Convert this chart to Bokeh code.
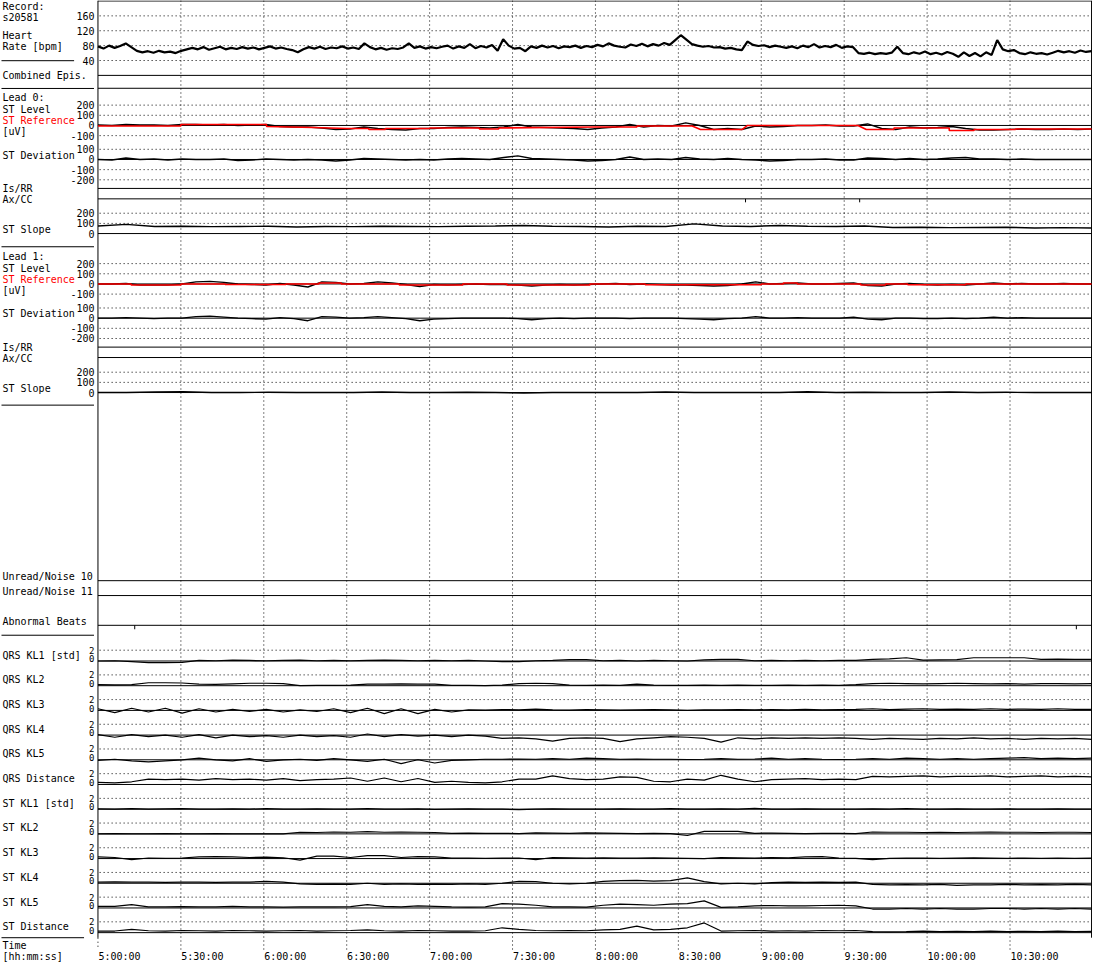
import numpy as np
from bokeh.plotting import figure
from bokeh.models import Range1d
from bokeh.core.properties import value
from bokeh.embed import file_html
from bokeh.resources import INLINE

# ------------------------------------------------------------------ data
RECORD = "s20581"
TICK_MIN = [0, 30, 60, 90, 120, 150, 180, 210, 240, 270, 300, 330]
TICK_LABELS = ["5:00:00", "5:30:00", "6:00:00", "6:30:00", "7:00:00", "7:30:00",
               "8:00:00", "8:30:00", "9:00:00", "9:30:00", "10:00:00", "10:30:00"]
END_MIN = 359.5   # minutes after 5:00:00 covered by the record window

# heart rate, evenly sampled over the window
hr_bpm = [78, 72, 80, 74, 79, 86, 76, 66, 62, 65, 61, 66, 62, 64, 60, 66, 70, 74, 70, 76,
          69, 73, 77, 70, 74, 71, 76, 72, 75, 70, 74, 78, 72, 75, 71, 68, 62, 70, 76, 72,
          77, 71, 75, 73, 78, 72, 75, 71, 86, 76, 70, 74, 69, 73, 71, 75, 86, 74, 78, 72,
          76, 73, 77, 80, 72, 78, 74, 84, 73, 79, 75, 82, 66, 97, 80, 72, 74, 65, 78, 74,
          80, 75, 79, 73, 78, 76, 80, 74, 79, 76, 82, 78, 86, 80, 77, 75, 83, 79, 85, 78,
          84, 80, 87, 82, 95, 108, 96, 84, 80, 77, 79, 75, 76, 72, 74, 70, 68, 91, 82, 79,
          81, 76, 80, 77, 74, 78, 73, 80, 76, 84, 75, 79, 76, 82, 74, 78, 76, 60, 58, 61,
          57, 60, 58, 61, 77, 60, 57, 62, 58, 64, 57, 61, 56, 63, 58, 50, 62, 52, 60, 51,
          62, 55, 95, 70, 65, 68, 60, 57, 62, 58, 60, 56, 61, 66, 62, 65, 61, 67, 63, 65]

# ST level / deviation [uV], evenly sampled over the window
st0_level = [5, 0, 10, 5, 5, 0, 10, 10, 5, 10, 0, 5, 10, -10, -15, -15, -25, -40, -35, -15,
             -30, -40, -45, -30, -30, -20, -15, -20, -25, -15, 10, -15, -20, -25, -30, -40,
             -25, -15, 10, -15, 0, -5, 25, 0, -40, -30, -40, -5, -15, -10, 0, 0, 5, -5, -5,
             15, -30, -40, -15, -25, -20, -10, -30, -45, -45, -40, -35, -40, -40, -35, -40, -35]
st0_dev = [0, -5, 15, 0, 5, -5, 5, 0, 0, 5, -10, -5, 5, 0, -5, 0, -5, -15, -5, 10,
           5, 0, -5, 0, -5, 5, 10, 5, 0, 20, 35, 10, 5, 0, -5, -15, -10, 0, 25, 0,
           5, 0, 20, 5, 0, 10, 0, -5, -15, -10, 0, 0, 5, -5, -5, 15, 10, 0, 10, 0,
           5, 15, 20, 5, 5, 0, 5, 0, 0, 0, 0, 0]
st1_level = [0, 0, 5, -10, -10, -10, 0, 20, 25, 15, 0, -5, -10, 5, -10, -30, 20, 15, 0, 5,
             20, 10, -5, -25, -5, -10, -5, 0, -5, -5, -10, -20, -10, -5, -10, -5, 0, 5, -5, 0,
             -5, -10, -10, -15, -20, -15, 0, 20, 0, 5, 10, 0, 0, 5, 10, -15, -20, 0, 5, -5,
             -10, -5, -10, 0, 10, 0, 5, 0, 0, 5, 0, 0]
st1_dev = [0, 0, 5, 0, -5, 0, 0, 15, 20, 10, 0, -5, -10, 5, -5, -25, 15, 10, 0, 5,
           15, 5, -5, -25, -10, -5, 0, 0, 0, 0, -5, -15, -5, 0, -5, 0, 0, 0, -5, 0,
           0, 0, -5, -10, -15, -5, 0, 15, 0, 0, 5, 0, 0, 0, 10, -10, -15, 0, 0, -5,
           -5, 0, -5, 0, 10, 0, 5, 0, 0, 0, 0, 0]

# ST reference (red), as (minute, uV) vertices
ref0_min = [0, 30, 30, 61, 61, 78, 90, 98, 98, 104, 104, 120, 120, 138, 138, 145, 145, 180,
            195, 195, 215, 218, 233, 235, 275, 278, 288, 288, 308, 308, 317, 317, 332, 332, 359.5]
ref0_uv = [-5, -5, 10, 10, -10, -20, -30, -30, -40, -40, -30, -30, -25, -25, -35, -35, -25, -15,
           -15, -5, -5, -40, -40, 0, 0, -40, -40, -25, -25, -50, -50, -40, -40, -35, -35]
ref1_min = [0, 12, 12, 30, 30, 46, 46, 68, 68, 80, 80, 88, 88, 109, 109, 132, 132, 148, 148,
            178, 178, 198, 198, 240, 240, 248, 248, 253, 253, 276, 276, 285, 285, 293, 293,
            314, 314, 359.5]
ref1_uv = [0, 0, -10, -10, 0, 0, -5, -5, 0, 0, 10, 10, 0, 0, -10, -10, 0, 0, -10,
           -10, 0, 0, -8, -8, 0, 0, 10, 10, 0, 0, -10, -10, 0, 0, -8,
           -8, 0, 0]

# ST slope, evenly sampled over the window
slope0 = [75, 90, 70, 72, 68, 70, 72, 65, 70, 68, 72, 70, 68, 72, 75, 80, 72, 70, 65, 72,
          70, 95, 75, 70, 80, 72, 70, 75, 60, 62, 58, 60, 62, 55, 58, 55]
slope1 = [0, 0, 5, 8, 0, 0, 3, 0, 0, 0, 5, 0, 0, 3, 0, -5, 0, 0, 0, 0,
          5, 0, 0, 0, 0, 8, 0, 3, 0, 0, 5, 0, 3, 0, 0, 0]

axcc0_events = [234.3, 275.6]
abnormal_beats = [13.3, 354.0]

kl_names = ["QRS KL1 [std]", "QRS KL2", "QRS KL3", "QRS KL4", "QRS KL5", "QRS Distance",
            "ST KL1 [std]", "ST KL2", "ST KL3", "ST KL4", "ST KL5", "ST Distance"]
qrs_kl1 = [0, 0.05, -0.1, -0.3, -0.3, -0.25, 0.1, 0.05, 0.15, 0.1,
           0.05, 0.1, 0.15, 0.05, 0.1, 0.05, 0.1, 0.15, 0.1, 0.05,
           0.1, 0.05, 0.1, 0.0, -0.1, -0.1, 0.05, 0.1, 0.25, 0.25,
           0.05, 0.1, 0.0, 0.1, 0.05, 0.0, 0.2, 0.3, 0.3, 0.05,
           0.1, 0.05, 0.1, 0.05, 0.1, 0.1, 0.3, 0.4, 0.6, 0.15,
           0.2, 0.25, 0.6, 0.6, 0.6, 0.6, 0.3, 0.35, 0.3, 0.3]
qrs_kl2 = [0.2, 0.15, 0.2, 0.55, 0.55, 0.5, 0.3, 0.25, 0.35, 0.45,
           0.45, 0.4, 0.0, 0.05, 0.05, 0.1, 0.3, 0.3, 0.35, 0.3,
           0.3, 0.05, 0.05, 0.0, 0.1, 0.4, 0.45, 0.4, 0.1, 0.05,
           0.1, 0.05, 0.3, 0.1, 0.05, 0.05, 0.1, 0.05, 0.1, 0.05,
           0.05, 0.1, 0.05, 0.1, 0.05, 0.2, 0.4, 0.45, 0.4, 0.35,
           0.4, 0.45, 0.4, 0.35, 0.4, 0.3, 0.4, 0.4, 0.35, 0.4]
qrs_kl3 = [0.3, -0.4, 0.4, -0.3, 0.4, -0.5, 0.3, -0.3, 0.2, -0.2,
           0.2, -0.3, 0.1, -0.2, 0.3, -0.4, 0.4, -0.6, 0.3, -0.6,
           0.2, -0.3, 0.1, 0.05, 0.15, 0.1, 0.25, 0.1, 0.05, 0.15,
           0.1, 0.05, 0.1, 0.15, 0.1, 0.0, 0.1, 0.1, 0.15, 0.1,
           0.15, 0.1, 0.2, 0.1, 0.15, 0.2, 0.3, 0.15, 0.25, 0.3,
           0.2, 0.25, 0.2, 0.3, 0.2, 0.25, 0.2, 0.3, 0.2, 0.2]
qrs_kl4 = [0.1, -0.4, 0.1, -0.3, 0.0, -0.4, 0.1, -0.5, 0.0, -0.3,
           -0.1, -0.4, 0.0, -0.3, -0.1, -0.4, 0.2, -0.3, 0.1, -0.2,
           0.0, -0.3, 0.0, -0.2, -0.6, -0.5, -0.7, -1.1, -0.6, -0.5,
           -0.6, -1.2, -0.7, -0.5, -0.3, -0.4, -0.6, -1.3, -0.5, -0.7,
           -0.5, -0.6, -0.5, -0.6, -0.5, -0.6, -0.8, -0.6, -0.7, -0.8,
           -0.6, -0.7, -0.5, -0.7, -0.6, -0.8, -0.6, -0.7, -0.6, -0.8]
qrs_kl5 = [-0.1, 0.1, -0.2, -0.4, -0.2, 0.0, 0.3, 0.0, -0.2, 0.2,
           -0.3, 0.0, 0.1, -0.1, 0.2, 0.0, -0.3, 0.1, -0.7, 0.0,
           -0.6, -0.1, 0.0, 0.1, 0.1, 0.15, 0.1, 0.2, 0.1, 0.3,
           0.2, 0.1, 0.15, 0.1, 0.1, 0.05, 0.1, 0.2, 0.1, 0.15,
           0.3, 0.1, 0.2, 0.1, 0.05, 0.1, 0.2, 0.1, 0.3, 0.2,
           0.1, 0.2, 0.1, 0.2, 0.3, 0.4, 0.2, 0.3, 0.2, 0.3]
qrs_dist = [0.4, 0.3, 0.5, 1.0, 0.9, 1.0, 0.8, 1.1, 0.9, 1.0,
            0.8, 1.1, 0.7, 0.9, 1.0, 1.2, 0.6, 1.2, 0.5, 1.1,
            0.4, 0.6, 0.4, 0.3, 0.5, 1.0, 1.0, 1.6, 1.1, 0.9,
            1.0, 1.4, 1.3, 0.6, 0.5, 1.0, 0.8, 1.7, 1.0, 0.5,
            0.9, 1.0, 1.1, 0.9, 1.0, 0.9, 1.5, 1.4, 1.5, 1.6,
            1.4, 1.5, 1.5, 1.6, 1.4, 1.5, 1.6, 1.4, 1.5, 1.4]
st_kl1 = [0.05, 0.0, 0.1, 0.0, 0.05, 0.1, 0.0, 0.0, 0.05, 0.0,
          0.1, 0.0, 0.0, 0.05, 0.0, 0.0, 0.1, 0.0, 0.0, 0.05,
          -0.05, 0.0, 0.05, 0.0, 0.0, -0.1, 0.0, 0.05, 0.0, 0.0,
          0.0, 0.05, 0.0, 0.0, 0.1, 0.0, 0.0, 0.05, 0.0, 0.15,
          0.0, 0.0, 0.05, 0.0, 0.0, 0.0, 0.05, 0.0, 0.1, 0.0,
          0.0, 0.05, 0.0, 0.0, 0.05, 0.0, 0.0, 0.05, 0.0, 0.0]
st_kl2 = [0.0, 0.05, 0.0, 0.0, 0.05, 0.0, 0.0, 0.05, 0.0, 0.0,
          0.0, 0.0, 0.3, 0.25, 0.35, 0.3, 0.4, 0.3, 0.35, 0.3,
          0.25, 0.1, 0.15, 0.1, 0.1, 0.05, 0.2, 0.15, 0.1, 0.2,
          0.15, 0.1, 0.05, 0.1, 0.05, -0.3, 0.45, 0.45, 0.45, 0.1,
          0.15, 0.1, 0.05, 0.1, 0.1, 0.05, 0.35, 0.3, 0.3, 0.25,
          0.3, 0.25, 0.3, 0.35, 0.3, 0.3, 0.25, 0.3, 0.3, 0.25]
st_kl3 = [0.3, 0.2, -0.2, 0.1, 0.05, 0.1, 0.3, 0.35, 0.3, 0.2,
          0.25, 0.15, -0.3, 0.45, 0.45, 0.2, 0.55, 0.55, 0.2, 0.35,
          0.3, 0.1, 0.1, 0.05, 0.1, 0.1, -0.2, 0.2, 0.15, 0.1,
          0.15, 0.1, 0.1, 0.15, 0.1, 0.05, 0.0, 0.2, 0.15, 0.1,
          0.2, 0.15, 0.3, 0.35, 0.1, 0.05, -0.2, 0.05, 0.1, 0.1,
          0.05, 0.1, 0.15, 0.1, 0.05, 0.1, 0.05, 0.1, 0.05, 0.1]
st_kl4 = [0.2, 0.25, 0.2, 0.2, 0.15, 0.2, 0.2, 0.15, 0.2, 0.2,
          0.35, 0.2, -0.1, -0.2, -0.15, -0.2, 0.0, -0.2, -0.1, -0.2,
          -0.15, -0.2, -0.1, -0.2, 0.0, 0.35, 0.3, 0.0, -0.1, 0.0,
          0.35, 0.5, 0.55, 0.4, 0.5, 1.0, 0.3, -0.1, 0.0, -0.1,
          0.1, 0.2, 0.15, 0.2, 0.15, 0.2, -0.2, -0.3, -0.25, -0.3,
          -0.2, -0.4, -0.3, -0.3, -0.2, -0.3, -0.25, -0.3, -0.2, -0.3]
st_kl5 = [0.3, 0.3, 0.6, 0.2, 0.2, 0.25, 0.2, 0.2, 0.3, 0.2,
          0.2, 0.15, 0.2, 0.2, 0.2, 0.25, 0.6, 0.3, 0.2, 0.4,
          0.3, 0.2, 0.15, 0.2, 0.8, 0.7, 0.5, 0.2, 0.2, 0.15,
          0.5, 0.7, 0.6, 0.5, 0.7, 0.8, 1.3, 0.1, 0.2, 0.4,
          0.45, 0.4, 0.4, 0.45, 0.5, 0.4, -0.2, -0.2, -0.1, -0.2,
          -0.1, -0.2, -0.2, -0.1, -0.1, -0.2, -0.1, -0.2, -0.1, -0.2]
st_dist = [0.3, 0.3, 0.6, 0.35, 0.3, 0.4, 0.35, 0.3, 0.4, 0.35,
           0.3, 0.35, 0.4, 0.3, 0.35, 0.4, 0.5, 0.35, 0.3, 0.4,
           0.35, 0.3, 0.3, 0.35, 0.9, 0.6, 0.4, 0.35, 0.4, 0.35,
           0.5, 0.6, 1.2, 0.5, 0.6, 0.9, 1.8, 0.3, 0.35, 0.4,
           0.3, 0.35, 0.3, 0.4, 0.35, 0.4, 0.2, 0.15, 0.2, 0.3,
           0.2, 0.25, 0.2, 0.3, 0.2, 0.25, 0.2, 0.3, 0.2, 0.25]
kl_series = [qrs_kl1, qrs_kl2, qrs_kl3, qrs_kl4, qrs_kl5, qrs_dist,
             st_kl1, st_kl2, st_kl3, st_kl4, st_kl5, st_dist]

# ------------------------------------------------------------------ layout (reference pixel rows)
W, H = 1092, 962
REF_H = 970.0
X_ORIGIN = 100.0      # pixel column of 5:00:00
PX_PER_MIN = 2.779


def xm(px):
    return (px - X_ORIGIN) / PX_PER_MIN


def times(n):
    return np.linspace(0.0, END_MIN, n)


FONT = value("DejaVu Sans Mono")
FS = "10px"
BLACK = "#000000"
RED = "#ff0000"

p = figure(width=W, height=H, x_range=Range1d(xm(2.0), xm(1100.0)),
           y_range=Range1d(REF_H, 0), x_axis_location=None, y_axis_location=None,
           output_backend="svg", toolbar_location=None, min_border=0,
           outline_line_color=None, background_fill_color="white",
           border_fill_color="white")
p.grid.visible = False

KL_ZERO0, KL_GAP, KL_SCALE = 666.0, 24.9, 5.45
panels = {
    "hr": (75.5, 0.375),
    "l0lev": (126.0, 0.1025), "l0dev": (160.3, 0.1025), "l0slope": (235.0, 0.1025),
    "l1lev": (285.8, 0.1025), "l1dev": (320.3, 0.1025), "l1slope": (395.3, 0.1025),
}
for k in range(len(kl_names)):
    panels["kl%d" % k] = (KL_ZERO0 + KL_GAP * k, KL_SCALE)
p.extra_y_ranges = {n: Range1d(start=(z - REF_H) / s, end=z / s) for n, (z, s) in panels.items()}

# dotted vertical time grid
p.segment(x0=TICK_MIN[1:], y0=[0] * 11, x1=TICK_MIN[1:], y1=[957] * 11,
          line_color=BLACK, line_width=1, line_dash="1 3")
p.segment(x0=[0], y0=[945], x1=[0], y1=[957], line_color=BLACK, line_width=1, line_dash="1 3")

# dotted horizontal grids + tick labels per panel
grid_specs = [
    ("hr", [160, 120, 80, 40], ["160", "120", "80", "40"]),
    ("l0lev", [200, 100, -100], ["200", "100", "0", "-100"]),
    ("l0dev", [100, -100, -200], ["100", "0", "-100", "-200"]),
    ("l0slope", [200, 100], ["200", "100", "0"]),
    ("l1lev", [200, 100, -100], ["200", "100", "0", "-100"]),
    ("l1dev", [100, -100, -200], ["100", "0", "-100", "-200"]),
    ("l1slope", [200, 100], ["200", "100", "0"]),
]
for name, dots, labs in grid_specs:
    p.segment(x0=[0.6] * len(dots), x1=[END_MIN] * len(dots), y0=dots, y1=dots,
              y_range_name=name, line_color=BLACK, line_width=1, line_dash="1 3")
    tick_vals = [int(t) for t in labs]
    p.text(x=[xm(96.5)] * len(labs), y=tick_vals, text=labs, y_range_name=name,
           text_font=FONT, text_font_size=FS, text_align="right",
           text_baseline="middle", text_color=BLACK)
    if name != "hr":
        p.segment(x0=[0], x1=[END_MIN], y0=[0], y1=[0], y_range_name=name,
                  line_color=BLACK, line_width=1)

for k in range(len(kl_names)):
    name = "kl%d" % k
    p.segment(x0=[0.6], x1=[END_MIN], y0=[2], y1=[2], y_range_name=name,
              line_color=BLACK, line_width=1, line_dash="1 3")
    p.segment(x0=[0], x1=[END_MIN], y0=[0], y1=[0], y_range_name=name,
              line_color=BLACK, line_width=1)
    p.text(x=[xm(96.5)] * 2, y=[2, 0.42], text=["2", "0"], y_range_name=name,
           text_font=FONT, text_font_size="9px", text_align="right",
           text_baseline="middle", text_color=BLACK)

# solid frame and panel separators (reference pixel rows)
solid_rows = [0.5, 75.5, 88.5, 189.5, 200.0, 349.5, 360.0, 585.0, 600.0, 630.0]
p.segment(x0=[0] * len(solid_rows), x1=[END_MIN] * len(solid_rows), y0=solid_rows,
          y1=solid_rows, line_color=BLACK, line_width=1)
p.segment(x0=[0, END_MIN], x1=[0, END_MIN], y0=[0, 0], y1=[945, 945],
          line_color=BLACK, line_width=1)

# left-side separators
sep_rows = [60.7, 88.7, 248.3, 408.0, 640.0, 945.0]
sep_right = [76, 96, 96, 96, 96, 86]
p.segment(x0=[xm(3)] * len(sep_rows), x1=[xm(r) for r in sep_right], y0=sep_rows,
          y1=sep_rows, line_color=BLACK, line_width=1)

# ------------------------------------------------------------------ traces
p.line(times(len(hr_bpm)), hr_bpm, y_range_name="hr", line_color=BLACK, line_width=2.2)

st_t = times(len(st0_level))
p.line(st_t, st0_level, y_range_name="l0lev", line_color=BLACK, line_width=1.4)
p.line(ref0_min, ref0_uv, y_range_name="l0lev", line_color=RED, line_width=1.6)
p.line(st_t, st0_dev, y_range_name="l0dev", line_color=BLACK, line_width=1.4)
p.line(st_t, st1_level, y_range_name="l1lev", line_color=BLACK, line_width=1.4)
p.line(ref1_min, ref1_uv, y_range_name="l1lev", line_color=RED, line_width=1.6)
p.line(st_t, st1_dev, y_range_name="l1dev", line_color=BLACK, line_width=1.4)

sl_t = times(len(slope0))
p.line(sl_t, slope0, y_range_name="l0slope", line_color=BLACK, line_width=1.4)
p.line(sl_t, slope1, y_range_name="l1slope", line_color=BLACK, line_width=1.4)

p.segment(x0=axcc0_events, x1=axcc0_events, y0=[200] * len(axcc0_events),
          y1=[203.5] * len(axcc0_events), line_color=BLACK, line_width=1)
p.segment(x0=abnormal_beats, x1=abnormal_beats, y0=[630] * len(abnormal_beats),
          y1=[634] * len(abnormal_beats), line_color=BLACK, line_width=1)

for k, series in enumerate(kl_series):
    p.line(times(len(series)), series, y_range_name="kl%d" % k, line_color=BLACK,
           line_width=1.2)

# ------------------------------------------------------------------ texts
left_labels = [
    ("Record:", 6.5, BLACK), (RECORD, 16.7, BLACK), ("Heart", 35.5, BLACK),
    ("Rate [bpm]", 46.5, BLACK), ("Combined Epis.", 76.0, BLACK),
]
for lead, off in (("0", 0.0), ("1", 160.0)):
    left_labels += [
        ("Lead %s:" % lead, 98.0 + off, BLACK), ("ST Level", 110.0 + off, BLACK),
        ("ST Reference", 121.5 + off, RED), ("[uV]", 132.5 + off, BLACK),
        ("ST Deviation", 156.0 + off, BLACK), ("Is/RR", 189.5 + off, BLACK),
        ("Ax/CC", 201.0 + off, BLACK), ("ST Slope", 231.0 + off, BLACK),
    ]
left_labels += [("Unread/Noise 10", 581.0, BLACK), ("Unread/Noise 11", 596.0, BLACK),
                ("Abnormal Beats", 626.0, BLACK)]
for k, nm in enumerate(kl_names):
    left_labels.append((nm, KL_ZERO0 + KL_GAP * k - 6.0, BLACK))
left_labels += [("Time", 953.0, BLACK), ("[hh:mm:ss]", 963.5, BLACK)]

p.text(x=[xm(4.0)] * len(left_labels), y=[l[1] for l in left_labels],
       text=[l[0] for l in left_labels], text_color=[l[2] for l in left_labels],
       text_font=FONT, text_font_size=FS, text_align="left", text_baseline="middle")

p.text(x=[t + 0.15 for t in TICK_MIN], y=[963.5] * len(TICK_MIN), text=TICK_LABELS,
       text_font=FONT, text_font_size=FS, text_align="left", text_baseline="middle",
       text_color=BLACK)

open("out.html", "w").write(file_html(p, INLINE))
